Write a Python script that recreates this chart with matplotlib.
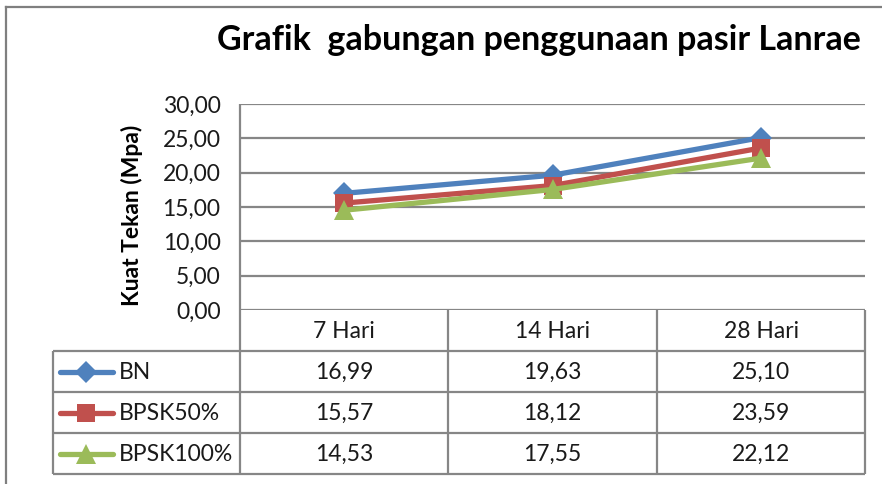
import matplotlib
matplotlib.use("Agg")
import matplotlib.pyplot as plt

plt.rcParams['font.family'] = ['Lato', 'DejaVu Sans']

title = "Grafik  gabungan penggunaan pasir Lanrae"
ylabel = "Kuat Tekan (Mpa)"
categories = ["7 Hari", "14 Hari", "28 Hari"]
series_names = ["BN", "BPSK50%", "BPSK100%"]
bn = [16.99, 19.63, 25.10]
bpsk50 = [15.57, 18.12, 23.59]
bpsk100 = [14.53, 17.55, 22.12]
yticks = [0, 5, 10, 15, 20, 25, 30]

series = [bn, bpsk50, bpsk100]
colors = ["#4F81BD", "#C0504D", "#9BBB59"]
markers = ["D", "s", "^"]
msizes = [11, 13, 14]

W, H = 882, 484
fig = plt.figure(figsize=(W / 100, H / 100), dpi=100)

def fx(px):
    return px / W

def fy(py):
    return 1 - py / H

grid_c = "#868686"
lw_grid = 1.6
fs = 16.5
tc = "#1a1a1a"

# plot area
L, R, T, B = 240, 865, 104, 310
ax = fig.add_axes([fx(L), fy(B), fx(R) - fx(L), fy(T) - fy(B)])
ax.set_xlim(0, len(categories))
ax.set_ylim(0, 30)
ax.set_yticks(yticks)
ax.set_yticklabels([f"{v:.2f}".replace('.', ',') for v in yticks], fontsize=fs, color=tc)
ax.set_xticks([])
for s in ax.spines.values():
    s.set_visible(False)
ax.tick_params(axis='y', length=0, pad=14)
for v in yticks:
    ax.axhline(v, color=grid_c, lw=lw_grid, zorder=1)
ax.set_ylabel(ylabel, fontsize=16.5, fontweight='bold')
ax.yaxis.set_label_coords(-0.155, 0.46)

xs = [i + 0.5 for i in range(len(categories))]
for vals, c, m, ms in zip(series, colors, markers, msizes):
    ax.plot(xs, vals, color=c, lw=3.8, marker=m, markersize=ms,
            markeredgewidth=0, zorder=3, solid_capstyle='round')

fig.text(fx(539), fy(40), title, fontsize=24.5, fontweight='bold',
         ha='center', va='center', color="#000000")

# overlay for table
ov = fig.add_axes([0, 0, 1, 1], facecolor='none')
ov.set_xlim(0, W)
ov.set_ylim(H, 0)
ov.axis('off')

def hl(y, x0, x1):
    ov.plot([x0, x1], [y, y], color=grid_c, lw=lw_grid, solid_capstyle='butt')

def vl(x, y0, y1):
    ov.plot([x, x], [y0, y1], color=grid_c, lw=lw_grid, solid_capstyle='butt')

# outer chart border
ov.plot([6, 6], [7, H], color="#7f7f7f", lw=1.6)
ov.plot([6, W], [7, 7], color="#7f7f7f", lw=1.6)

TL = 53
col_x = [L, 448, 657, R]
row_y = [310, 351, 392, 433, 474]

vl(L, T, row_y[-1])
for x in col_x[1:]:
    vl(x, row_y[0], row_y[-1])
vl(TL, row_y[1], row_y[-1])
for y in row_y[1:]:
    hl(y, TL, R)

for j, cat in enumerate(categories):
    cx = (col_x[j] + col_x[j + 1]) / 2
    ov.text(cx, (row_y[0] + row_y[1]) / 2 + 1, cat, ha='center', va='center',
            fontsize=fs, color=tc)

for i, (name, vals, c, m, ms) in enumerate(zip(series_names, series, colors, markers, msizes)):
    cy = (row_y[i + 1] + row_y[i + 2]) / 2
    ov.plot([60, 113], [cy, cy], color=c, lw=3.8, solid_capstyle='round')
    ov.plot([86], [cy], marker=m, color=c, markersize=ms, markeredgewidth=0)
    ov.text(119, cy + 1, name, ha='left', va='center', fontsize=fs, color=tc)
    for j, v in enumerate(vals):
        cx = (col_x[j] + col_x[j + 1]) / 2
        ov.text(cx, cy + 1, f"{v:.2f}".replace('.', ','), ha='center', va='center',
                fontsize=fs, color=tc)

fig.savefig("out.png", dpi=100)
